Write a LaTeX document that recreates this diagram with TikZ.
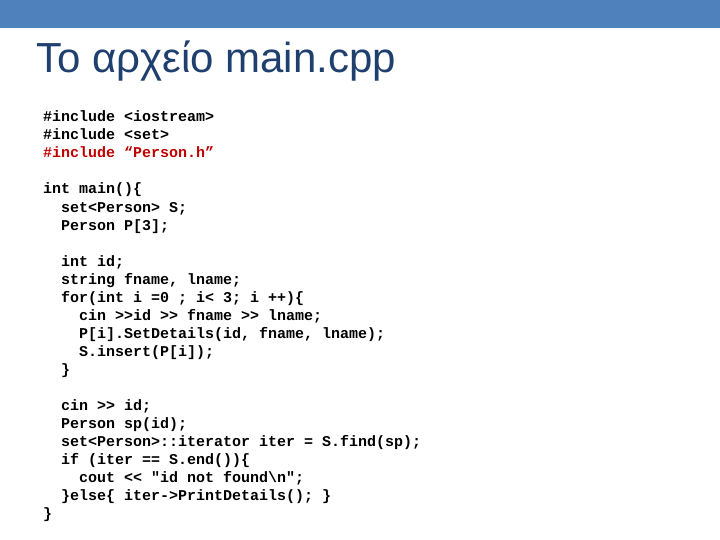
\documentclass[tikz,border=0pt]{standalone}
\usepackage{fontspec}
\setmainfont{Liberation Sans}
\newfontfamily\codefont{Liberation Mono}
\definecolor{barblue}{HTML}{4F81BD}
\definecolor{titleblue}{HTML}{1F3F6E}
\definecolor{codered}{HTML}{C00000}
\begin{document}
\begin{tikzpicture}[x=1pt,y=-1pt,
  code/.style={anchor=base west,inner sep=0pt,font=\codefont\bfseries\fontsize{15}{18}\selectfont}]
\useasboundingbox (0,0) rectangle (720,540);
\fill[barblue] (0,0) rectangle (720,28);
\node[anchor=base west,inner sep=0pt,text=titleblue,font=\fontsize{42}{48}\selectfont] (title) at (36,73) {Το αρχείο main.cpp};
\node[code] (l1) at (43,122) {\#include <iostream>};
\node[code] (l2) at (43,140) {\#include <set>};
\node[code,text=codered] (l3) at (43,158) {\#include “Person.h”};
\node[code] (l4) at (43,194) {int main()\{};
\node[code] (l5) at (61,212) {set<Person> S;};
\node[code] (l6) at (61,230) {Person P[3];};
\node[code] (l7) at (61,266) {int id;};
\node[code] (l8) at (61,284) {string fname, lname;};
\node[code] (l9) at (61,302) {for(int i =0 ; i< 3; i ++)\{};
\node[code] (l10) at (79,320) {cin >>id >> fname >> lname;};
\node[code] (l11) at (79,338) {P[i].SetDetails(id, fname, lname);};
\node[code] (l12) at (79,356) {S.insert(P[i]);};
\node[code] (l13) at (61,374) {\}};
\node[code] (l14) at (61,410) {cin >> id;};
\node[code] (l15) at (61,428) {Person sp(id);};
\node[code] (l16) at (61,446) {set<Person>::iterator iter = S.find(sp);};
\node[code] (l17) at (61,464) {if (iter == S.end())\{};
\node[code] (l18) at (79,482) {cout << "id not found\textbackslash n";};
\node[code] (l19) at (61,500) {\}else\{ iter->PrintDetails(); \}};
\node[code] (l20) at (43,518) {\}};
\end{tikzpicture}
\end{document}
